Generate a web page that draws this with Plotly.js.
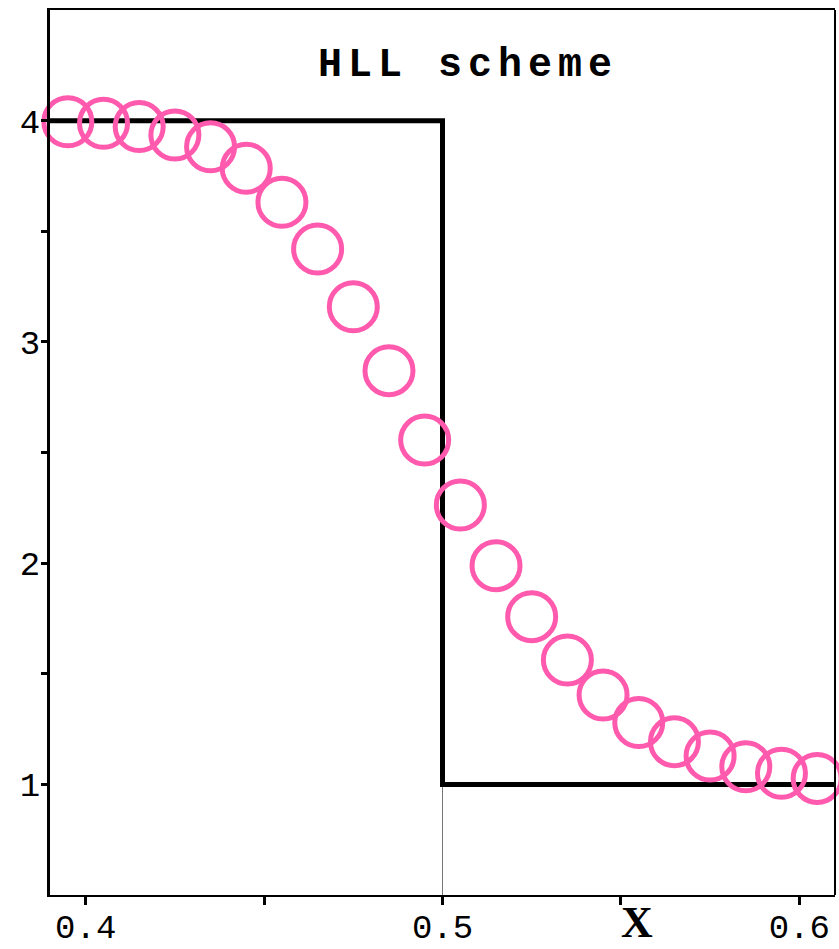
<!DOCTYPE html>
<html>
<head>
<meta charset="utf-8">
<script src="https://cdn.plot.ly/plotly-3.0.1.min.js"></script>
<style>
  html, body { margin: 0; padding: 0; background: #fff; }
  #chart { width: 839px; height: 949px; }
  .gtitle { letter-spacing: 6px; }
</style>
</head>
<body>
<div id="chart"></div>
<script>
// Numerical (HLL) solution points
var hllX = [0.395, 0.405, 0.415, 0.425, 0.435, 0.445, 0.455, 0.465, 0.475, 0.485, 0.495,
            0.505, 0.515, 0.525, 0.535, 0.545, 0.555, 0.565, 0.575, 0.585, 0.595, 0.605];
var hllY = [3.995, 3.988, 3.973, 3.935, 3.882, 3.785, 3.631, 3.420, 3.159, 2.870, 2.556,
            2.263, 1.988, 1.758, 1.562, 1.404, 1.280, 1.193, 1.128, 1.080, 1.050, 1.027];

// Exact solution (step)
var exactX = [0.39, 0.5, 0.5, 0.61];
var exactY = [4, 4, 1, 1];

// Thin vertical guide below the step
var guideX = [0.5, 0.5];
var guideY = [0.5, 1];

// Axis ticks
var xTickVals = [0.4, 0.45, 0.5, 0.55, 0.6];
var xTickText = ['0.4', '', '0.5', '', '0.6'];
var yTickVals = [1, 1.5, 2, 2.5, 3, 3.5, 4];
var yTickText = ['1', '', '2', '', '3', '', '4'];

var traces = [
  {
    x: guideX, y: guideY, mode: 'lines', type: 'scatter',
    line: { color: '#777777', width: 1 }, hoverinfo: 'skip', showlegend: false
  },
  {
    x: exactX, y: exactY, mode: 'lines', type: 'scatter',
    line: { color: '#000000', width: 5 }, showlegend: false
  },
  {
    x: hllX, y: hllY, mode: 'markers', type: 'scatter', cliponaxis: false,
    marker: { symbol: 'circle-open', size: 48, color: '#ff5aad', line: { width: 5, color: '#ff5aad' } },
    showlegend: false
  }
];

var tickFont = { family: 'Liberation Mono, Courier New, monospace', size: 34, color: '#000' };

var layout = {
  width: 839, height: 949,
  margin: { l: 50, r: 4, t: 10, b: 54 },
  paper_bgcolor: '#ffffff', plot_bgcolor: '#ffffff',
  showlegend: false,
  title: {
    text: 'HLL scheme',
    font: { family: 'Liberation Mono, Courier New, monospace', size: 40, color: '#000', weight: 'bold' },
    xref: 'container', x: 468 / 839, xanchor: 'center',
    yref: 'container', y: 1 - 62 / 949, yanchor: 'middle'
  },
  xaxis: {
    range: [0.39, 0.61], showgrid: false, zeroline: false,
    showline: true, linecolor: '#000', linewidth: 2, mirror: true,
    ticks: 'outside', ticklen: 8, tickwidth: 3, tickcolor: '#000',
    ticklabelstandoff: -8,
    tickvals: xTickVals, ticktext: xTickText, tickfont: tickFont
  },
  yaxis: {
    range: [0.5, 4.5], showgrid: false, zeroline: false,
    showline: true, linecolor: '#000', linewidth: 3, mirror: false,
    ticks: 'outside', ticklen: 6, tickwidth: 3, tickcolor: '#000',
    ticklabelstandoff: -6,
    tickvals: yTickVals, ticktext: yTickText, tickfont: tickFont
  },
  shapes: [
    { type: 'line', xref: 'paper', yref: 'paper', x0: 1, x1: 1, y0: 0, y1: 1,
      line: { color: '#000', width: 2 } }
  ],
  annotations: [
    { text: 'X', xref: 'x', yref: 'paper', x: 0.5545, y: -0.031,
      xanchor: 'center', yanchor: 'middle', showarrow: false,
      font: { family: 'Liberation Serif, Times New Roman, serif', size: 44, color: '#000', weight: 'bold' } }
  ]
};

Plotly.newPlot('chart', traces, layout, { displayModeBar: false, staticPlot: true });
</script>
</body>
</html>
